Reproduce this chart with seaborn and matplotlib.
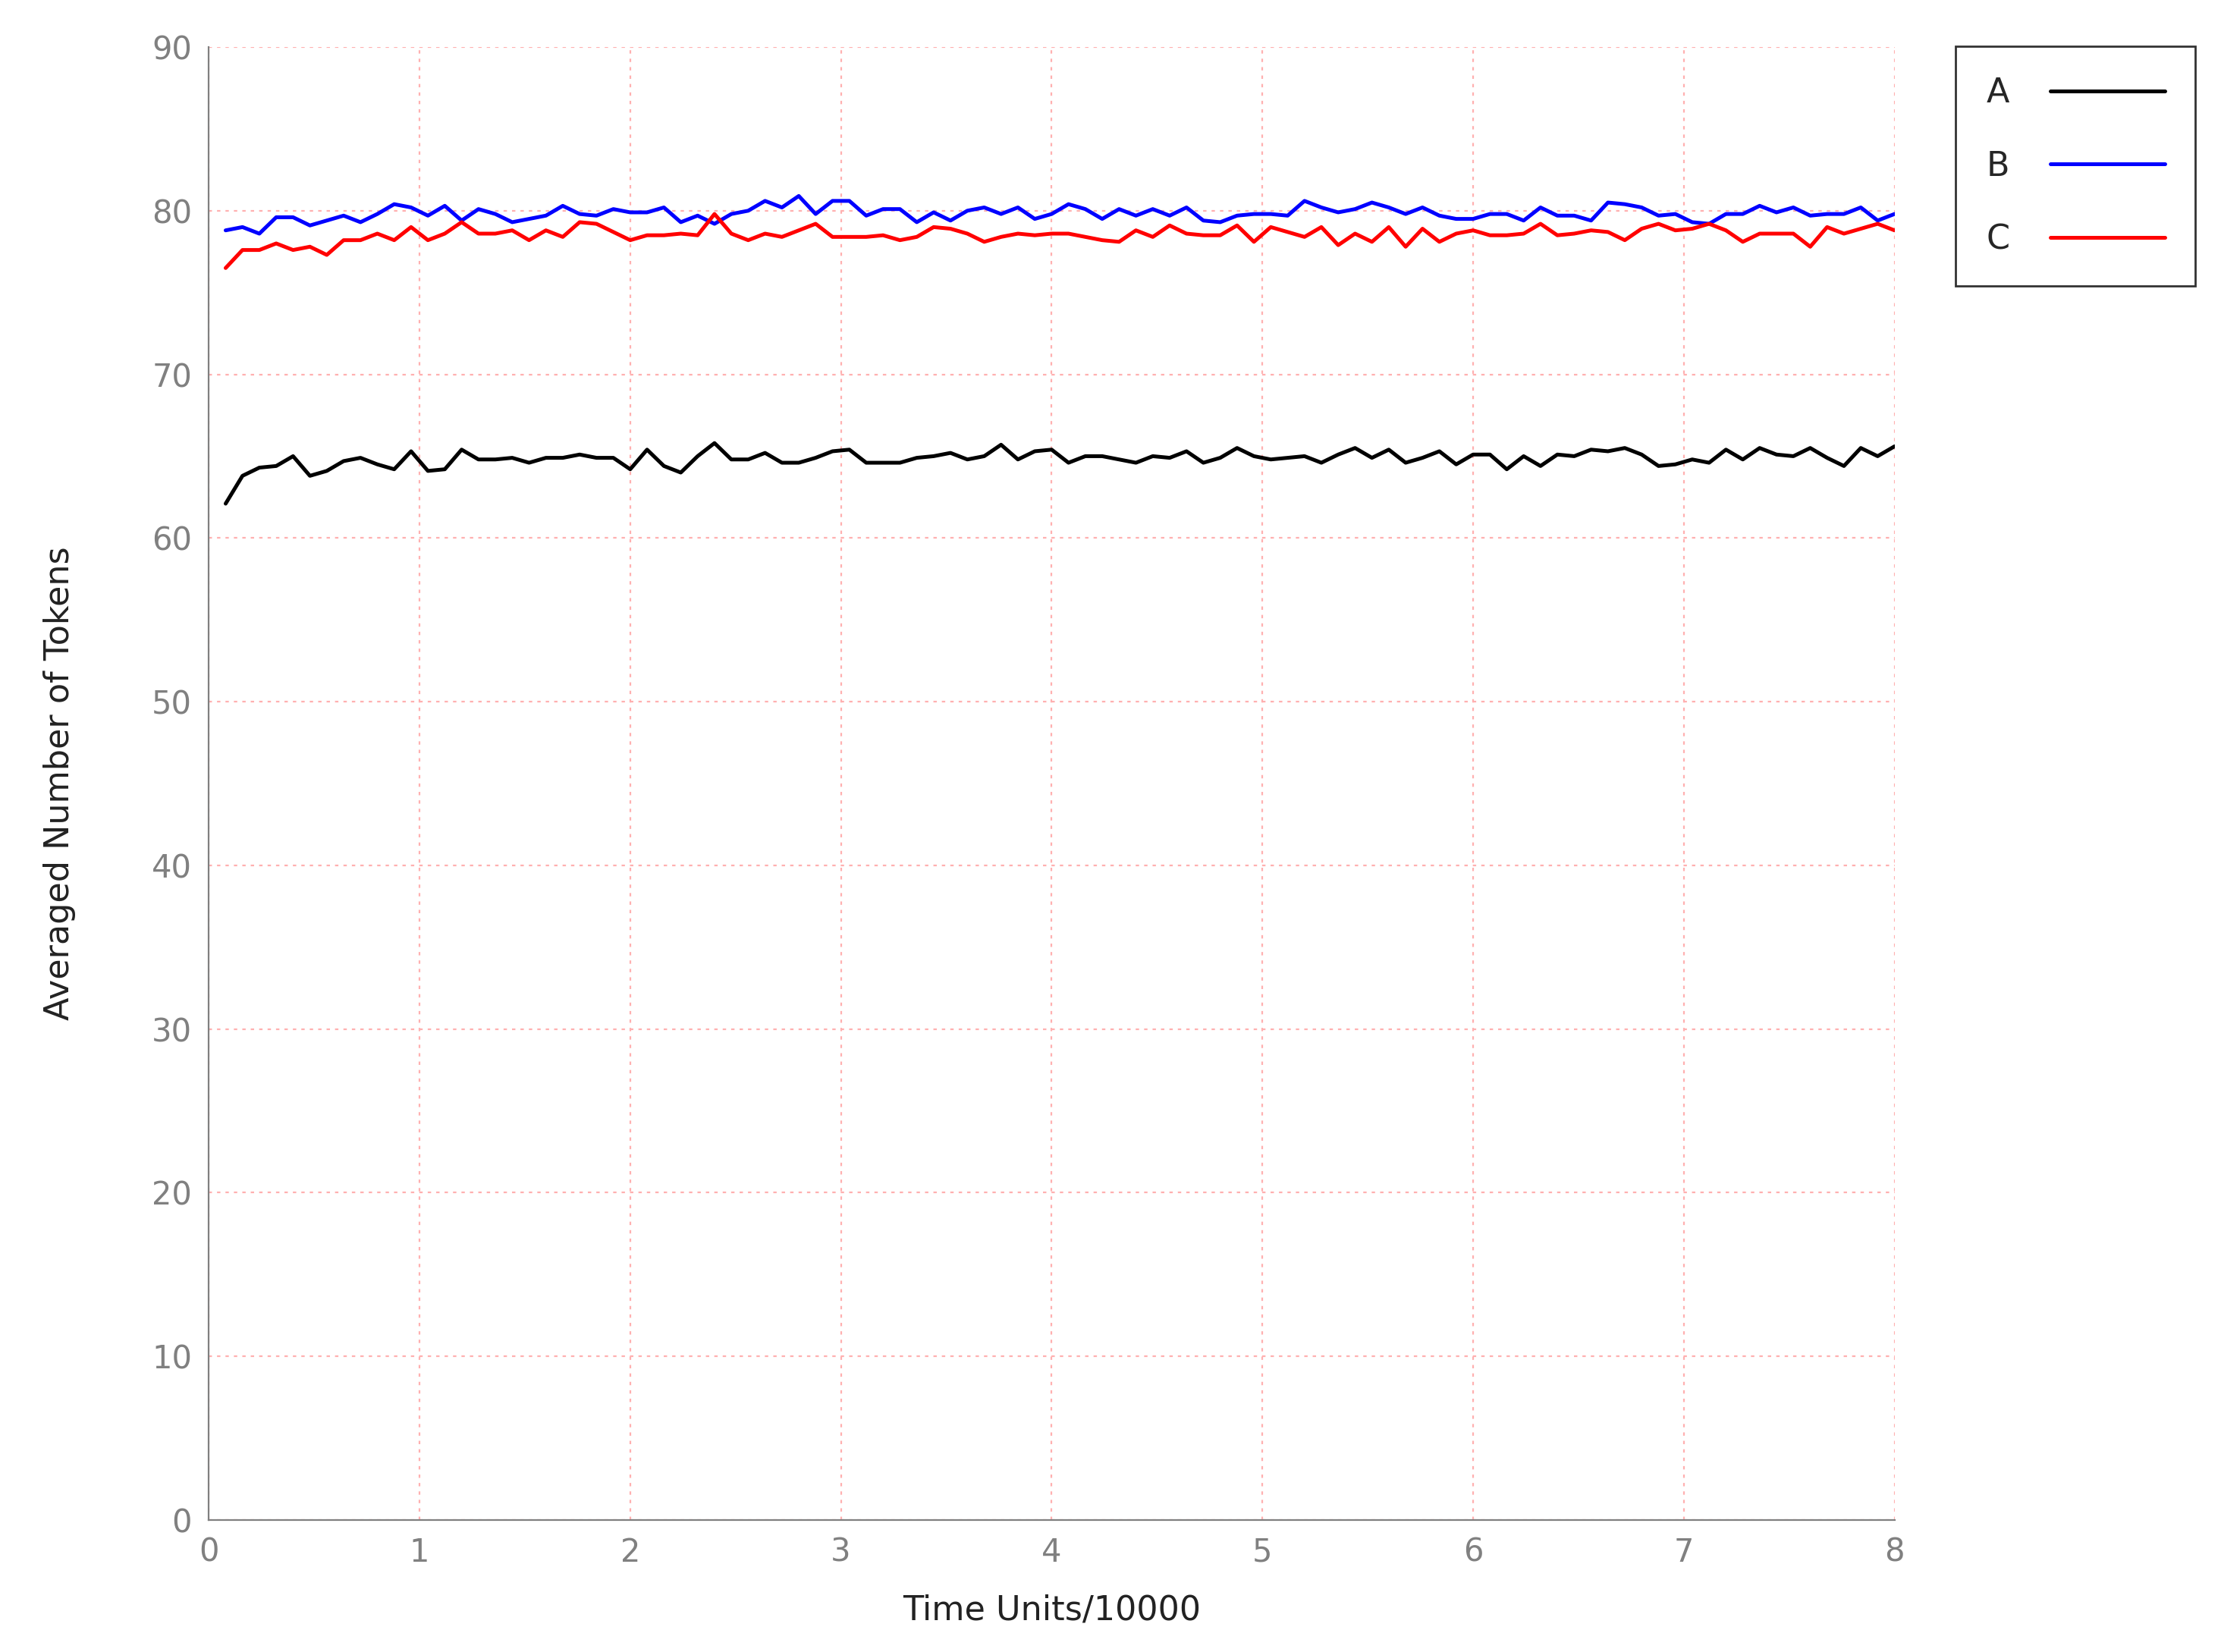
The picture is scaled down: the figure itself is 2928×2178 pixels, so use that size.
import matplotlib
matplotlib.use("Agg")
import matplotlib.pyplot as plt
import numpy as np
import pandas as pd
import seaborn as sns

# sample times (Time Units/10000), one every 0.08
time = np.round(np.arange(1, 101) * 0.08, 2)

series_a = [
    62.1, 63.8, 64.3, 64.4, 65.0, 63.8, 64.1, 64.7, 64.9, 64.5,
    64.2, 65.3, 64.1, 64.2, 65.4, 64.8, 64.8, 64.9, 64.6, 64.9,
    64.9, 65.1, 64.9, 64.9, 64.2, 65.4, 64.4, 64.0, 65.0, 65.8,
    64.8, 64.8, 65.2, 64.6, 64.6, 64.9, 65.3, 65.4, 64.6, 64.6,
    64.6, 64.9, 65.0, 65.2, 64.8, 65.0, 65.7, 64.8, 65.3, 65.4,
    64.6, 65.0, 65.0, 64.8, 64.6, 65.0, 64.9, 65.3, 64.6, 64.9,
    65.5, 65.0, 64.8, 64.9, 65.0, 64.6, 65.1, 65.5, 64.9, 65.4,
    64.6, 64.9, 65.3, 64.5, 65.1, 65.1, 64.2, 65.0, 64.4, 65.1,
    65.0, 65.4, 65.3, 65.5, 65.1, 64.4, 64.5, 64.8, 64.6, 65.4,
    64.8, 65.5, 65.1, 65.0, 65.5, 64.9, 64.4, 65.5, 65.0, 65.6,
]
series_b = [
    78.8, 79.0, 78.6, 79.6, 79.6, 79.1, 79.4, 79.7, 79.3, 79.8,
    80.4, 80.2, 79.7, 80.3, 79.4, 80.1, 79.8, 79.3, 79.5, 79.7,
    80.3, 79.8, 79.7, 80.1, 79.9, 79.9, 80.2, 79.3, 79.7, 79.2,
    79.8, 80.0, 80.6, 80.2, 80.9, 79.8, 80.6, 80.6, 79.7, 80.1,
    80.1, 79.3, 79.9, 79.4, 80.0, 80.2, 79.8, 80.2, 79.5, 79.8,
    80.4, 80.1, 79.5, 80.1, 79.7, 80.1, 79.7, 80.2, 79.4, 79.3,
    79.7, 79.8, 79.8, 79.7, 80.6, 80.2, 79.9, 80.1, 80.5, 80.2,
    79.8, 80.2, 79.7, 79.5, 79.5, 79.8, 79.8, 79.4, 80.2, 79.7,
    79.7, 79.4, 80.5, 80.4, 80.2, 79.7, 79.8, 79.3, 79.2, 79.8,
    79.8, 80.3, 79.9, 80.2, 79.7, 79.8, 79.8, 80.2, 79.4, 79.8,
]
series_c = [
    76.5, 77.6, 77.6, 78.0, 77.6, 77.8, 77.3, 78.2, 78.2, 78.6,
    78.2, 79.0, 78.2, 78.6, 79.3, 78.6, 78.6, 78.8, 78.2, 78.8,
    78.4, 79.3, 79.2, 78.7, 78.2, 78.5, 78.5, 78.6, 78.5, 79.8,
    78.6, 78.2, 78.6, 78.4, 78.8, 79.2, 78.4, 78.4, 78.4, 78.5,
    78.2, 78.4, 79.0, 78.9, 78.6, 78.1, 78.4, 78.6, 78.5, 78.6,
    78.6, 78.4, 78.2, 78.1, 78.8, 78.4, 79.1, 78.6, 78.5, 78.5,
    79.1, 78.1, 79.0, 78.7, 78.4, 79.0, 77.9, 78.6, 78.1, 79.0,
    77.8, 78.9, 78.1, 78.6, 78.8, 78.5, 78.5, 78.6, 79.2, 78.5,
    78.6, 78.8, 78.7, 78.2, 78.9, 79.2, 78.8, 78.9, 79.2, 78.8,
    78.1, 78.6, 78.6, 78.6, 77.8, 79.0, 78.6, 78.9, 79.2, 78.8,
]

df = pd.DataFrame({"time": time, "A": series_a, "B": series_b, "C": series_c})
df_long = df.melt(id_vars="time", var_name="series", value_name="tokens")

sns.set_style("white")
plt.rcParams["font.family"] = ["DejaVu Sans"]

fig = plt.figure(figsize=(14.64, 10.89), dpi=200)
ax = fig.add_axes([0.094, 0.080, 0.759, 0.8915])

sns.lineplot(
    data=df_long, x="time", y="tokens", hue="series",
    palette={"A": "black", "B": "blue", "C": "red"},
    linewidth=1.8, ax=ax, legend=False,
)

ax.set_xlim(0, 8)
ax.set_ylim(0, 90)
ax.set_xticks(range(0, 9))
ax.set_yticks(range(0, 91, 10))
ax.grid(True, color="#ffb0b0", linestyle=(0, (2, 3)), linewidth=0.8)
for side in ["top", "right"]:
    ax.spines[side].set_visible(False)
for side in ["left", "bottom"]:
    ax.spines[side].set_color("#808080")
ax.tick_params(colors="#808080", labelsize=15, length=5, direction="in", pad=8)
ax.set_xlabel("Time Units/10000", fontsize=16, color="#222222", labelpad=12)
ax.set_ylabel("Averaged Number of Tokens", fontsize=16, color="#222222", labelpad=36)

handles = [plt.Line2D([], [], color=c, linewidth=1.8) for c in ["black", "blue", "red"]]
leg = fig.legend(
    handles, ["A", "B", "C"], loc="upper left",
    bbox_to_anchor=(0.873, 0.982), markerfirst=False,
    fontsize=16, frameon=True, fancybox=False, handlelength=3.4,
    labelspacing=1.2, borderpad=0.9, handletextpad=1.2,
)
leg.get_frame().set_edgecolor("black")
leg.get_frame().set_linewidth(1.0)

fig.savefig("out.png", dpi=200, facecolor="white")
